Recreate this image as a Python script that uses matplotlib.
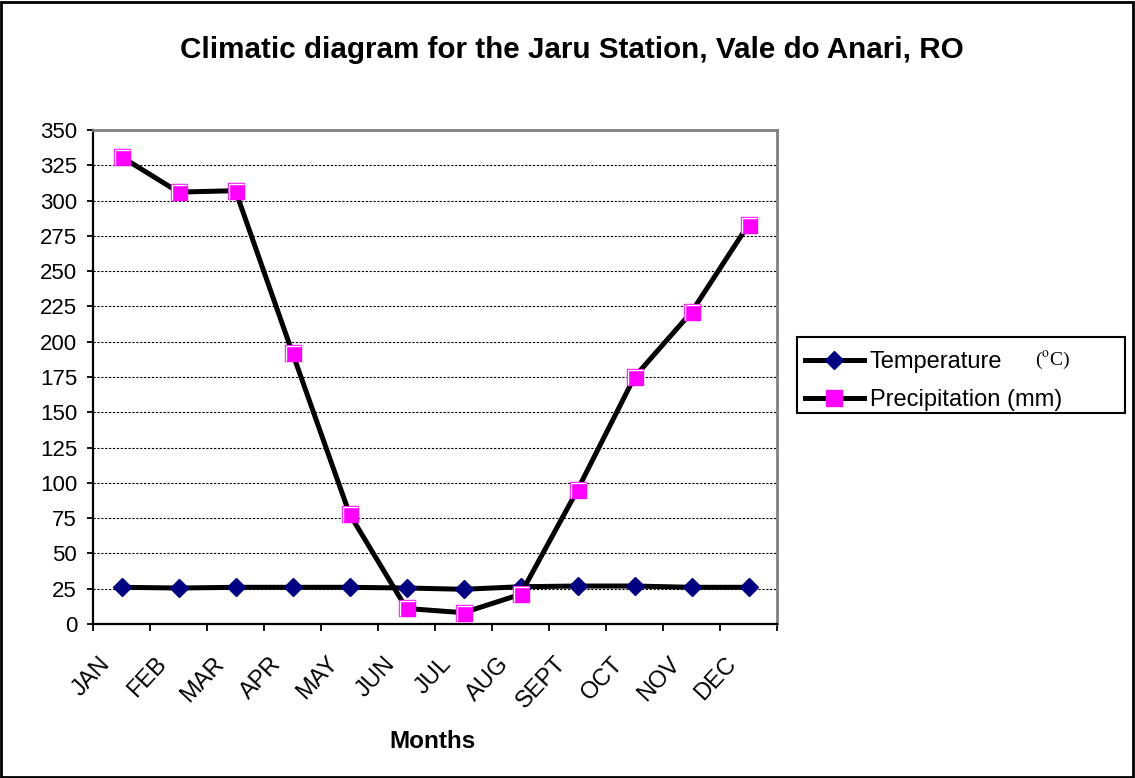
import matplotlib
matplotlib.use("Agg")
import matplotlib.pyplot as plt
import matplotlib.transforms as mtransforms
from matplotlib.patches import Rectangle
import numpy as np

months = ['JAN', 'FEB', 'MAR', 'APR', 'MAY', 'JUN', 'JUL', 'AUG', 'SEPT', 'OCT', 'NOV', 'DEC']
temperature = [26.0, 25.5, 26.0, 26.0, 26.0, 25.5, 24.6, 26.4, 26.9, 26.9, 26.0, 26.0]
precipitation = [331, 306, 307, 192, 78, 11, 8, 21, 95, 175, 221, 283]
y_ticks = list(range(0, 351, 25))

plt.rcParams['font.family'] = ['Liberation Sans', 'DejaVu Sans']
plt.rcParams['mathtext.fontset'] = 'stix'

W, H, DPI = 1135, 778, 100
fig = plt.figure(figsize=(W / DPI, H / DPI), dpi=DPI)
fig.patch.set_facecolor('white')

# plot area in pixel coords of the reference
left, right, top, bottom = 93, 777, 130, 624
ax = fig.add_axes([left / W, 1 - bottom / H, (right - left) / W, (bottom - top) / H])

x = np.arange(len(months))
ax.plot(x, temperature, color='black', lw=3.6, marker='D', ms=9.5,
        mfc='#000080', mec='#000080', label='Temperature', zorder=3)
ax.plot(x, precipitation, color='black', lw=3.6, marker='s', ms=12,
        mfc='#FF00FF', mec='#FF00FF', label='Precipitation (mm)', zorder=4)
# little white highlight inside the squares
corner = [(-0.3, -0.35), (-0.3, 0.3), (0.35, 0.3)]
ax.plot(x, precipitation, ls='none', marker=corner, ms=11, mfc='none',
        mec='white', mew=1.0, zorder=5)

ax.set_xlim(-0.5, len(months) - 0.5)
ax.set_ylim(0, 350)
ax.set_yticks(y_ticks)
ax.set_yticklabels([str(v) for v in y_ticks], fontsize=16)
for v in y_ticks[1:-1]:
    ax.axhline(v, color='black', lw=0.8, ls=(0, (2, 1.5)), zorder=1)

# tick marks between categories, labels at centers
ax.set_xticks(np.arange(-0.5, len(months), 1.0), minor=True)
ax.set_xticks(x)
ax.set_xticklabels(months, fontsize=17, rotation=47, ha='right', va='baseline',
                   rotation_mode='anchor')
ax.tick_params(axis='x', which='major', length=0, pad=29)
ax.tick_params(axis='x', which='minor', length=5, width=1.3, direction='out')
ax.tick_params(axis='y', length=4.5, width=1.3, pad=7)
shift = mtransforms.ScaledTranslation(-11 / DPI, 0, fig.dpi_scale_trans)
for lab in ax.get_xticklabels():
    lab.set_transform(lab.get_transform() + shift)

for s in ['left', 'bottom']:
    ax.spines[s].set_color('black')
    ax.spines[s].set_linewidth(1.6)
for s in ['top', 'right']:
    ax.spines[s].set_color('#808080')
    ax.spines[s].set_linewidth(2)

fig.text(572 / W, 1 - 50 / H, 'Climatic diagram for the Jaru Station, Vale do Anari, RO',
         ha='center', va='center', fontsize=21.3, fontweight='bold')
fig.text(432 / W, 1 - 741 / H, 'Months', ha='center', va='center',
         fontsize=17.5, fontweight='bold')

# legend box
lx0, lx1, ly0, ly1 = 797, 1125, 337, 413
fig.add_artist(Rectangle((lx0 / W, 1 - ly1 / H), (lx1 - lx0) / W, (ly1 - ly0) / H,
                         transform=fig.transFigure, fill=True, facecolor='white',
                         edgecolor='black', lw=1.5, zorder=5))
handles, labels = ax.get_legend_handles_labels()
leg = fig.legend(handles, labels, loc='upper left',
                 bbox_to_anchor=((lx0 + 2) / W, 1 - (ly0 + 8) / H),
                 bbox_transform=fig.transFigure, frameon=False, fontsize=17,
                 handlelength=2.5, handletextpad=0.25, labelspacing=0.68,
                 borderpad=0.25, borderaxespad=0)
leg.set_zorder(6)
fig.text(1035 / W, 1 - 360 / H, r'($^{\mathrm{o}}$C)', ha='left', va='center',
         fontsize=14, family='Liberation Serif', zorder=7)

# outer border
fig.add_artist(Rectangle((0.001, 0.001), 0.997, 0.997, transform=fig.transFigure,
                         fill=False, edgecolor='black', lw=2))

fig.savefig('out.png', dpi=DPI)
